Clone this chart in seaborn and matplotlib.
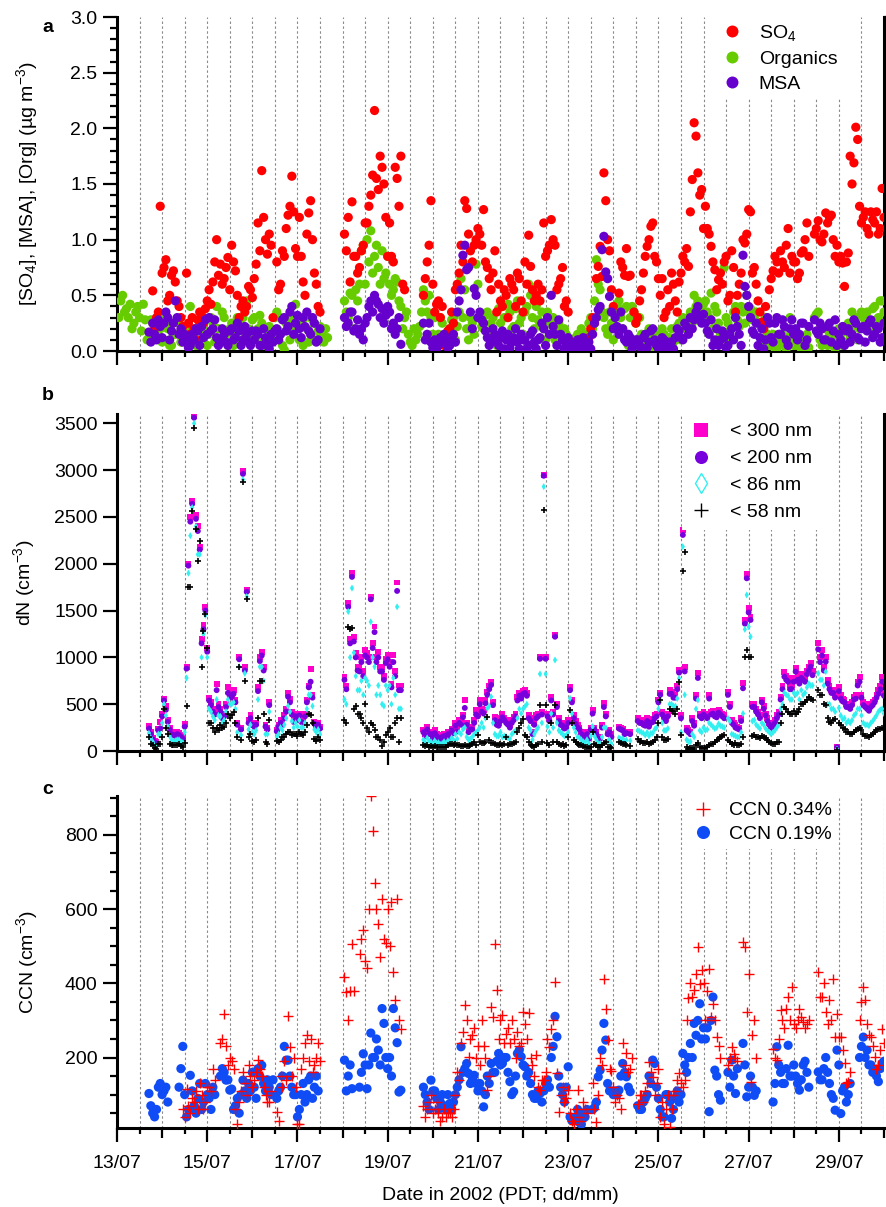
import warnings
warnings.filterwarnings("ignore")
import numpy as np
import matplotlib
matplotlib.use("Agg")
import matplotlib.pyplot as plt
from matplotlib.lines import Line2D
from matplotlib.ticker import (FixedLocator, FixedFormatter, MultipleLocator,
                               NullLocator, FormatStrFormatter)
import seaborn as sns

nan = np.nan

# ---------------- axis data ----------------
DAY_TICKS = [0, 2, 4, 6, 8, 10, 12, 14, 16]
DAY_LABELS = ["13/07", "15/07", "17/07", "19/07", "21/07", "23/07", "25/07", "27/07", "29/07"]
N_DAYS = 17
SLOTS_PER_DAY = 12   # two samples per 2-hour slot: "A" at slot centre, "B" one hour later

# ---------------- panel a (ug m-3) ----------------
SO4_A = [
    nan, nan, nan, nan, nan, nan, nan, nan, nan, 0.54, 0.30, 1.30,
    0.75, 0.45, 0.68, 0.62, 0.40, 0.22, 0.70, 0.15, 0.20, 0.28, 0.32, 0.38,
    0.55, 0.62, 1.00, 0.78, 0.65, 0.84, 0.95, 0.72, 0.30, 0.45, 0.40, 0.55,
    0.65, 1.15, 1.62, 1.00, 1.05, 0.30, 0.80, 0.60, 0.85, 1.22, 1.57, 0.92,
    1.20, 0.62, 1.05, 1.35, 0.70, 0.40, nan, nan, nan, nan, nan, nan,
    1.05, 1.20, 1.34, 0.85, 0.75, 0.95, 1.15, 1.40, 2.16, 1.45, 1.65, 1.20,
    1.15, 0.80, 1.55, 1.75, 0.55, nan, nan, nan, nan, 0.50, 0.80, 1.35,
    0.35, 0.45, 0.40, 0.10, 0.20, 0.25, 0.60, 0.95, 1.35, 1.05, 0.80, 1.00,
    1.05, 1.27, 0.75, 0.55, 0.90, 0.60, 0.40, 0.50, 0.65, 0.55, 0.70, 0.45,
    0.80, 1.04, 0.55, 0.50, 0.45, 1.15, 0.90, 1.18, 0.95, 0.60, 0.75, 0.45,
    0.05, 0.02, 0.08, 0.03, 0.05, 0.12, 0.30, 0.65, 0.94, 1.60, 1.00, 0.55,
    nan, 0.52, 0.75, 0.92, 0.68, 0.35, 0.30, 0.55, 0.85, 1.00, 1.15, 0.80,
    0.50, 0.30, 0.55, 0.70, 0.45, 0.62, 0.85, 0.92, 1.25, 2.05, 1.60, 1.45,
    1.30, 1.05, 0.80, 0.55, 0.70, 0.80, 0.45, 0.90, 0.35, 0.60, 1.00, 1.05,
    1.25, 0.75, 0.45, 0.26, 0.40, 0.55, 0.72, 0.80, 0.90, 0.75, 1.10, 0.85,
    0.80, 0.70, 0.90, 1.15, nan, 1.05, 1.17, 0.98, 1.24, 1.20, 1.00, 0.95,
    0.85, 0.58, 0.88, 1.50, 2.01, 1.30, 1.20, 1.10, 1.25, 1.15, 1.05, 1.46,
]
SO4_B = [
    nan, nan, nan, nan, nan, nan, nan, nan, nan, 0.20, 0.35, 0.70,
    0.82, 0.50, 0.72, 0.45, 0.30, 0.12, 0.25, 0.30, 0.10, 0.35, 0.25, 0.45,
    0.42, 0.80, 0.68, 0.60, 0.75, 0.55, 0.80, 0.50, 0.40, 0.35, 0.58, 0.48,
    0.78, 0.90, 1.20, 0.87, 0.95, nan, 0.55, 0.90, 1.10, 1.30, 1.25, 0.85,
    0.85, 0.50, 1.24, 1.00, 0.60, 0.35, nan, nan, nan, nan, nan, nan,
    0.90, 0.62, 0.85, 0.70, 0.90, 1.15, 1.30, 1.58, 1.55, 1.75, 1.50, 0.85,
    0.85, 1.65, 1.30, 0.60, nan, nan, nan, nan, nan, 0.65, 0.95, 0.60,
    0.42, 0.30, 0.05, 0.18, 0.35, 0.55, 0.70, 0.80, 1.28, 0.90, 0.95, 1.10,
    0.95, 0.80, 0.65, 0.70, 0.35, 0.45, 0.55, 0.30, 0.60, 0.40, 0.65, 0.35,
    0.60, 0.76, 0.45, 0.60, 0.55, 0.85, 0.95, 1.00, 0.55, 0.65, 0.40, 0.35,
    0.08, 0.05, 0.10, 0.00, 0.08, 0.20, 0.25, 0.76, 0.67, 1.35, 0.90, 0.40,
    nan, 0.80, 0.68, 0.67, nan, 0.25, 0.45, 0.70, 0.94, 1.12, 0.85, 0.65,
    0.65, 0.35, 0.40, 0.60, 0.35, 0.70, 0.80, 0.76, 1.54, 1.93, 1.40, 1.10,
    1.10, 0.94, 0.73, 0.64, 0.60, 0.85, 0.50, 0.75, 0.50, 0.70, 0.97, 1.27,
    0.70, 0.60, 0.35, 0.20, nan, 0.65, 0.85, 0.70, 0.80, 0.95, 0.70, 0.80,
    0.65, 0.88, 1.00, 0.85, nan, 1.10, 1.00, 1.05, 1.15, 1.22, 0.85, 0.80,
    0.79, 0.80, 1.75, 1.69, 1.90, 1.15, 1.25, 1.05, 1.18, 1.25, 1.10, 1.20,
]
ORG_A = [
    0.30, 0.50, 0.38, 0.42, 0.25, 0.40, 0.18, 0.28, 0.12, 0.25, 0.15, 0.20,
    0.10, 0.20, 0.05, 0.15, 0.25, 0.12, 0.20, 0.40, 0.15, 0.08, 0.22, 0.18,
    0.15, 0.25, 0.40, 0.10, 0.30, 0.05, 0.25, 0.15, 0.08, 0.30, 0.45, 0.12,
    0.30, 0.20, 0.25, 0.05, 0.22, 0.15, 0.35, 0.30, 0.01, 0.28, 0.18, 0.42,
    0.10, 0.05, 0.20, 0.15, 0.25, 0.18, 0.15, 0.20, nan, nan, nan, nan,
    0.45, 0.30, 0.50, 0.55, 0.60, 0.95, 1.00, 1.08, 0.85, 0.75, 0.90, 0.70,
    0.60, 0.55, 0.62, 0.40, 0.30, 0.15, 0.05, 0.10, 0.22, 0.55, 0.35, 0.30,
    0.30, 0.15, 0.25, 0.05, 0.20, 0.30, 0.22, 0.65, 0.55, 0.10, 0.25, 0.78,
    0.30, 0.20, 0.35, 0.25, 0.10, 0.38, 0.40, 0.30, 0.35, 0.22, 0.45, 0.30,
    0.35, 0.60, 0.30, 0.40, 0.25, 0.20, 0.35, 0.15, 0.10, 0.25, 0.05, 0.15,
    0.10, 0.05, 0.15, 0.20, 0.08, 0.25, 0.20, 0.82, 0.55, 0.30, 0.15, 0.25,
    0.35, 0.45, 0.20, 0.40, 0.30, 0.35, 0.10, 0.15, 0.05, 0.20, 0.10, 0.15,
    0.05, 0.15, 0.02, 0.20, 0.10, 0.25, 0.30, 0.22, 0.35, 0.50, 0.45, 0.38,
    0.45, 0.30, 0.20, 0.35, 0.15, 0.75, 0.25, 0.10, 0.40, 0.22, 0.35, 0.50,
    0.38, 0.30, 0.25, 0.10, 0.30, 0.05, 0.15, 0.02, 0.10, 0.05, 0.12, 0.08,
    0.05, 0.10, 0.02, 0.15, nan, 0.30, 0.35, 0.05, 0.10, 0.15, 0.05, 0.08,
    0.15, 0.08, 0.25, 0.35, 0.30, 0.20, 0.30, 0.35, 0.25, 0.40, 0.30, 0.45,
]
ORG_B = [
    0.45, 0.35, 0.30, 0.20, 0.35, 0.30, 0.42, 0.10, 0.28, 0.18, 0.30, 0.08,
    0.25, 0.05, 0.15, 0.28, 0.08, 0.20, 0.10, 0.18, 0.05, 0.25, 0.12, 0.05,
    0.30, 0.08, 0.20, 0.35, 0.15, 0.20, 0.05, 0.30, 0.22, 0.12, 0.20, 0.28,
    0.12, 0.32, 0.08, 0.20, 0.10, 0.30, 0.18, 0.05, 0.25, 0.10, 0.30, 0.20,
    0.25, 0.30, 0.08, 0.28, 0.10, 0.22, 0.08, 0.12, nan, nan, nan, nan,
    0.35, 0.52, 0.20, 0.45, 0.90, 0.60, 0.80, 0.70, 0.95, 0.60, 0.65, 0.85,
    0.50, 0.65, 0.45, 0.20, 0.35, 0.08, 0.20, 0.15, 0.35, 0.45, 0.50, 0.15,
    0.10, 0.30, 0.08, 0.15, 0.28, 0.10, 0.35, 0.30, 0.20, 0.30, 0.15, 0.60,
    0.22, 0.32, 0.15, 0.30, 0.05, 0.25, 0.30, 0.42, 0.20, 0.38, 0.25, 0.15,
    0.40, 0.50, 0.20, 0.28, 0.35, 0.10, 0.25, 0.30, 0.20, 0.05, 0.20, 0.08,
    0.02, 0.12, 0.05, 0.10, 0.15, 0.30, 0.45, 0.60, 0.35, 0.20, 0.35, 0.10,
    0.42, 0.30, 0.38, 0.05, 0.40, 0.25, 0.30, 0.05, 0.15, 0.02, 0.18, 0.05,
    0.20, 0.05, 0.12, 0.08, 0.22, 0.10, 0.20, 0.30, 0.25, 0.40, 0.30, 0.42,
    0.35, 0.52, 0.40, 0.25, 0.10, 0.30, 0.18, 0.35, 0.28, 0.40, 0.25, 0.35,
    0.28, 0.35, 0.05, 0.20, 0.15, 0.10, 0.02, 0.08, 0.15, 0.02, 0.30, 0.05,
    0.12, 0.02, 0.08, 0.03, nan, 0.33, 0.10, 0.20, 0.05, 0.12, 0.02, 0.20,
    0.05, 0.20, 0.12, 0.22, 0.10, 0.35, 0.25, 0.20, 0.38, 0.28, 0.45, 0.35,
]
MSA_A = [
    nan, nan, nan, nan, nan, nan, nan, nan, 0.17, 0.25, 0.10, 0.22,
    0.25, 0.30, 0.18, 0.45, 0.15, 0.08, 0.12, 0.05, 0.10, 0.18, 0.22, 0.28,
    0.30, 0.20, 0.12, 0.08, 0.15, 0.05, 0.20, 0.12, 0.18, 0.10, 0.15, 0.05,
    0.10, 0.15, 0.05, 0.12, 0.02, 0.08, 0.20, 0.15, 0.30, 0.22, 0.40, 0.25,
    0.20, 0.30, 0.35, 0.15, 0.25, 0.10, nan, nan, nan, nan, nan, nan,
    0.30, 0.25, 0.35, 0.20, 0.15, 0.10, 0.30, 0.45, 0.50, 0.42, 0.38, 0.32,
    0.35, 0.25, 0.20, 0.06, nan, nan, nan, nan, nan, 0.25, 0.15, 0.08,
    0.10, 0.05, 0.08, 0.12, 0.05, 0.15, 0.35, 0.55, 0.95, 0.75, 0.20, 0.50,
    0.35, 0.25, 0.12, 0.08, 0.15, 0.05, 0.18, 0.10, 0.03, 0.12, 0.08, 0.15,
    0.10, 0.05, 0.18, 0.02, 0.12, 0.20, 0.30, 0.50, 0.15, 0.28, 0.10, 0.05,
    0.05, 0.02, 0.10, 0.05, 0.03, 0.08, 0.15, 0.30, 0.40, 1.03, 0.65, 0.35,
    0.30, 0.15, 0.20, 0.08, 0.12, 0.05, 0.10, 0.02, 0.15, 0.08, 0.20, 0.05,
    0.05, 0.10, 0.02, 0.08, 0.12, 0.18, 0.10, 0.22, 0.30, 0.28, 0.40, 0.25,
    0.25, 0.15, 0.05, 0.20, 0.10, 0.12, 0.05, 0.20, 0.30, 0.15, 0.86, 0.50,
    0.30, 0.15, 0.05, 0.20, 0.10, 0.25, 0.08, 0.30, 0.15, 0.22, 0.05, 0.28,
    0.20, 0.15, 0.25, 0.10, nan, 0.28, 0.15, 0.20, 0.10, 0.25, 0.18, 0.05,
    0.10, 0.05, 0.20, 0.15, 0.25, 0.10, 0.22, 0.18, 0.28, 0.15, 0.20, 0.12,
]
MSA_B = [
    nan, nan, nan, nan, nan, nan, nan, nan, 0.08, 0.15, 0.28, 0.12,
    0.35, 0.10, 0.25, 0.30, 0.20, 0.15, 0.03, 0.15, 0.20, 0.05, 0.12, 0.15,
    0.18, 0.28, 0.05, 0.20, 0.08, 0.18, 0.10, 0.25, 0.05, 0.22, 0.08, 0.18,
    0.18, 0.05, 0.20, 0.05, 0.15, 0.18, 0.10, 0.28, 0.18, 0.35, 0.15, 0.32,
    0.12, 0.22, 0.18, 0.30, 0.08, 0.20, nan, nan, nan, nan, nan, nan,
    0.22, 0.35, 0.18, 0.28, 0.20, 0.25, 0.40, 0.35, 0.45, 0.30, 0.25, 0.40,
    0.20, 0.15, 0.30, nan, nan, nan, nan, nan, nan, 0.10, 0.25, 0.03,
    0.02, 0.12, 0.15, 0.03, 0.10, 0.08, 0.45, 0.86, 0.73, 0.35, 0.56, 0.30,
    0.28, 0.18, 0.05, 0.20, 0.10, 0.12, 0.02, 0.15, 0.08, 0.20, 0.02, 0.10,
    0.02, 0.15, 0.08, 0.10, 0.25, 0.05, 0.15, 0.22, 0.05, 0.15, 0.02, 0.12,
    0.00, 0.08, 0.03, 0.12, 0.05, 0.02, 0.25, 0.37, 0.91, 0.71, 0.49, 0.20,
    0.22, 0.35, 0.10, 0.15, 0.02, 0.10, 0.05, 0.12, 0.03, 0.18, 0.10, 0.02,
    0.12, 0.03, 0.08, 0.02, 0.20, 0.12, 0.25, 0.15, 0.20, 0.35, 0.30, 0.33,
    0.18, 0.28, 0.10, 0.05, 0.18, 0.03, 0.15, 0.10, 0.22, 0.05, 0.58, 0.40,
    0.18, 0.25, 0.12, 0.02, 0.30, 0.12, 0.25, 0.15, 0.28, 0.10, 0.20, 0.15,
    0.10, 0.25, 0.05, 0.22, nan, 0.18, 0.25, 0.10, 0.22, 0.08, 0.28, 0.15,
    0.22, 0.18, 0.08, 0.28, 0.12, 0.20, 0.08, 0.25, 0.12, 0.22, 0.08, 0.25,
]

# ---------------- panel b (cm-3) ----------------
N300_A = [
    nan, nan, nan, nan, nan, nan, nan, nan, 265, 140, 100, 313,
    560, 330, 200, 180, 190, 150, 900, 2500, 3580, 2400, 1200, 1540,
    570, 450, 720, 450, 400, 680, 600, 550, 1000, 2990, 1720, 380,
    280, 680, 1060, 280, 520, nan, 230, 330, 380, 620, 420, 400,
    400, 320, 550, 880, 310, 300, nan, nan, nan, nan, nan, nan,
    790, 1580, 1905, 1050, 900, 850, 1050, 1650, 1330, 1060, 900, 980,
    950, 1030, 1800, 700, nan, nan, nan, nan, nan, 230, 260, 200,
    220, 160, 170, 150, 175, 220, 240, 310, 545, 220, 260, 440,
    545, 440, 634, 740, 360, 300, 400, 330, 280, 360, 580, 600,
    652, 380, 200, 380, 1008, 2949, 400, 580, 1240, 350, 300, 280,
    687, 380, 280, 200, 160, 150, 438, 200, 150, 509, 206, 180,
    nan, 260, 240, 206, 200, nan, 350, 330, 300, 290, 340, 400,
    616, 380, 400, 634, 598, 865, 2361, 250, 200, 300, 830, 380,
    400, 598, 430, 390, 420, 380, 634, 330, 280, 250, 723, 1887,
    1435, 500, 420, 545, 400, 300, 278, 380, 580, 848, 780, 700,
    883, 750, 800, 850, 937, nan, 1150, 1080, 1008, 700, 650, 46,
    600, 550, 500, 520, 600, 794, 520, 480, 500, 550, 650, 794,
]
N300_B = [
    nan, nan, nan, nan, nan, nan, nan, nan, 200, 110, 240, 400,
    480, 250, 190, 200, 170, 290, 2000, 2670, 2520, 2180, 1350, 1100,
    520, 420, 500, 380, 500, 620, 650, 300, 250, 900, 330, 300,
    300, 1000, 900, 250, nan, nan, 280, 300, 450, 560, 330, 350,
    330, 400, 700, 600, 280, 260, nan, nan, nan, nan, nan, nan,
    700, 1200, 1220, 900, 1000, 1080, 1000, 1150, 1000, 900, 800, 1030,
    720, 850, 700, nan, nan, nan, nan, nan, nan, 180, 200, 150,
    180, 140, 180, 200, 240, 300, 330, 390, 300, 250, 330, 400,
    450, 550, 700, 520, 300, 350, 350, 300, 330, 400, 620, 640,
    620, 350, 300, 400, 420, 1000, 350, 420, 500, 300, 260, 330,
    550, 320, 250, 180, 200, 250, 250, 150, 280, 400, 220, nan,
    nan, 250, 200, nan, nan, nan, 320, 300, 350, 320, 380, 550,
    420, 350, 650, 600, 700, 380, 900, 220, 350, 600, 400, 420,
    380, 420, 400, 440, 400, nan, 500, 300, 260, 350, 1400, 1524,
    500, 450, 380, 480, 350, 270, 330, 420, 700, 800, 700, 780,
    800, 820, 780, 900, 850, nan, 1000, 900, 760, 650, 600, 680,
    560, 500, 480, 580, 740, 600, 500, 460, 520, 600, 700, 620,
]
N200_A = [
    nan, nan, nan, nan, nan, nan, nan, nan, 240, 125, 80, 242,
    540, 310, 180, 160, 170, 130, 880, 2450, 3560, 2350, 1150, 1500,
    540, 420, 650, 420, 370, 620, 570, 520, 980, 2960, 1700, 350,
    260, 640, 1020, 260, 490, nan, 210, 300, 350, 580, 390, 370,
    380, 300, 520, 740, 290, 280, nan, nan, nan, nan, nan, nan,
    760, 1540, 1860, 1000, 850, 800, 1000, 1620, 1270, 1000, 850, 940,
    900, 950, 1710, 650, nan, nan, nan, nan, nan, 200, 230, 180,
    190, 140, 150, 130, 150, 190, 210, 280, 460, 200, 230, 390,
    500, 400, 600, 705, 330, 270, 360, 300, 250, 330, 540, 560,
    620, 350, 180, 350, 985, 2940, 370, 540, 1221, 320, 270, 250,
    650, 350, 250, 180, 140, 130, 400, 180, 130, 470, 180, 150,
    nan, 240, 220, 190, 180, nan, 320, 300, 270, 260, 310, 370,
    600, 350, 370, 610, 570, 837, 2308, 220, 180, 270, 780, 350,
    370, 560, 400, 360, 390, 350, 600, 300, 250, 230, 670, 1845,
    1400, 470, 390, 520, 380, 280, 260, 350, 550, 794, 740, 660,
    848, 720, 760, 820, 901, nan, 1086, 1020, 954, 660, 620, 40,
    560, 520, 470, 490, 560, 740, 490, 450, 470, 520, 610, 740,
]
N200_B = [
    nan, nan, nan, nan, nan, nan, nan, nan, 180, 95, 220, 370,
    440, 230, 170, 180, 150, 260, 1980, 2640, 2480, 2150, 1300, 1060,
    490, 390, 470, 350, 470, 580, 610, 280, 230, 860, 300, 280,
    280, 960, 860, 230, nan, nan, 260, 280, 420, 520, 310, 330,
    310, 370, 680, 570, 260, 240, nan, nan, nan, nan, nan, nan,
    660, 1150, 1170, 860, 950, 1020, 950, 1100, 950, 850, 760, 980,
    680, 800, 650, nan, nan, nan, nan, nan, nan, 160, 180, 130,
    160, 120, 160, 180, 220, 270, 300, 360, 280, 230, 300, 370,
    420, 510, 660, 490, 280, 320, 330, 280, 300, 370, 590, 610,
    590, 320, 280, 370, 390, 985, 320, 390, 470, 280, 240, 300,
    520, 290, 230, 160, 180, 230, 230, 130, 250, 370, 200, nan,
    nan, 230, 180, nan, nan, nan, 300, 280, 320, 300, 350, 520,
    390, 320, 610, 570, 660, 350, 850, 200, 320, 560, 370, 390,
    350, 390, 370, 410, 370, nan, 470, 280, 240, 320, 1360, 1480,
    470, 420, 350, 450, 320, 250, 300, 390, 660, 760, 660, 740,
    760, 780, 740, 860, 810, nan, 950, 860, 720, 620, 570, 640,
    530, 470, 450, 550, 700, 570, 470, 430, 490, 570, 660, 590,
]
N86_A = [
    nan, nan, nan, nan, nan, nan, nan, nan, 190, 100, 46, 180,
    500, 260, 120, 110, 120, 90, 780, 2300, 3500, 2100, 1000, 1450,
    450, 370, 550, 370, 330, 550, 500, 450, 900, 2900, 1650, 280,
    180, 550, 900, 180, 420, nan, 150, 250, 280, 480, 320, 300,
    330, 250, 450, 600, 230, 230, nan, nan, nan, nan, nan, nan,
    550, 1490, 1740, 800, 650, 600, 750, 1380, 900, 700, 500, 700,
    700, 780, 1540, 450, nan, nan, nan, nan, nan, 120, 140, 100,
    110, 90, 80, 80, 100, 120, 130, 180, 250, 120, 150, 200,
    250, 250, 455, 580, 180, 160, 150, 150, 130, 200, 350, 400,
    474, 250, 120, 220, 823, 2824, 260, 400, 972, 220, 180, 170,
    563, 250, 150, 120, 90, 80, 260, 120, 80, 250, 100, 80,
    nan, 140, 130, 117, 110, nan, 220, 200, 170, 160, 190, 250,
    545, 220, 240, 500, 480, 776, 2183, 120, 100, 150, 545, 200,
    220, 300, 260, 250, 270, 250, 350, 180, 160, 150, 400, 1667,
    1221, 330, 260, 300, 240, 200, 200, 250, 450, 620, 590, 550,
    600, 550, 600, 680, 700, nan, 830, 760, 848, 500, 450, 20,
    380, 350, 320, 330, 400, 450, 300, 280, 300, 350, 420, 450,
]
N86_B = [
    nan, nan, nan, nan, nan, nan, nan, nan, 140, 60, 180, 300,
    380, 160, 100, 120, 100, 200, 1900, 2600, 2400, 2100, 1250, 1000,
    420, 330, 380, 300, 420, 500, 520, 200, 170, 830, 230, 200,
    220, 900, 750, 180, nan, nan, 180, 220, 350, 420, 250, 260,
    250, 300, 600, 480, 200, 180, nan, nan, nan, nan, nan, nan,
    500, 1000, 1050, 650, 750, 780, 700, 1000, 600, 600, 480, 650,
    500, 600, 450, nan, nan, nan, nan, nan, nan, 90, 110, 70,
    80, 70, 100, 110, 140, 180, 200, 230, 150, 130, 180, 220,
    300, 350, 480, 300, 160, 200, 160, 140, 180, 220, 450, 450,
    500, 220, 180, 250, 300, 823, 200, 250, 300, 200, 160, 200,
    400, 200, 140, 100, 120, 160, 160, 80, 150, 250, 120, nan,
    nan, 130, 110, nan, nan, nan, 210, 190, 200, 190, 230, 450,
    300, 220, 500, 480, 560, 200, 600, 100, 180, 450, 220, 250,
    230, 280, 240, 290, 260, nan, 320, 170, 150, 200, 1300, 1328,
    320, 280, 240, 280, 220, 180, 220, 280, 500, 600, 550, 620,
    620, 650, 620, 720, 700, nan, 760, 700, 500, 450, 420, 460,
    340, 300, 300, 380, 450, 380, 280, 270, 320, 380, 440, 400,
]
N58_A = [
    nan, nan, nan, nan, nan, nan, nan, nan, 145, 60, 20, 80,
    450, 180, 60, 60, 70, 40, 480, 1750, 3450, 2030, 900, 1460,
    300, 250, 250, 280, 260, 400, 380, 300, 900, 2870, 1620, 180,
    100, 350, 750, 100, 330, nan, 110, 120, 150, 200, 170, 180,
    200, 170, 280, 380, 130, 150, nan, nan, nan, nan, nan, nan,
    330, 1320, 1310, 480, 400, 300, 250, 300, 220, 150, 50, 170,
    250, 150, 350, 350, nan, nan, nan, nan, nan, 60, 60, 50,
    50, 45, 45, 40, 80, 60, 60, 50, 60, 57, 70, 64,
    100, 82, 367, 82, 70, 60, 64, 153, 80, 82, 200, 300,
    171, 100, 50, 60, 491, 2575, 82, 300, 491, 80, 70, 60,
    438, 120, 80, 60, 40, 30, 206, 60, 40, 82, 40, 30,
    nan, 100, 80, 60, 50, nan, 130, 110, 90, 80, 100, 150,
    545, 120, 130, 430, 400, 740, 1927, 40, 30, 20, 82, 30,
    30, 60, 80, 120, 150, 170, 117, 70, 82, 60, 150, 1079,
    1008, 170, 150, 160, 140, 100, 80, 100, 300, 474, 420, 400,
    400, 450, 500, 550, 560, nan, 652, 598, 491, 313, 330, 10,
    280, 230, 200, 180, 220, 250, 180, 160, 170, 200, 230, 250,
]
N58_B = [
    nan, nan, nan, nan, nan, nan, nan, nan, 80, 30, 80, 150,
    250, 70, 60, 60, 50, 90, 1750, 2560, 2370, 2240, 1280, 1100,
    300, 200, 220, 250, 300, 350, 420, 150, 120, 750, 150, 110,
    120, 750, 400, 80, nan, nan, 100, 150, 180, 200, 180, 160,
    180, 200, 400, 300, 110, 120, nan, nan, nan, nan, nan, nan,
    300, 1300, 450, 400, 350, 500, 200, 280, 150, 120, 100, 200,
    150, 300, 100, nan, nan, nan, nan, nan, nan, 50, 45, 40,
    40, 40, 45, 60, 70, 80, 60, 50, 55, 60, 100, 170,
    90, 100, 120, 90, 60, 70, 80, 60, 80, 100, 250, 340,
    150, 60, 40, 70, 100, 491, 60, 100, 100, 60, 50, 150,
    300, 100, 60, 50, 40, 40, 80, 40, 60, 100, 40, nan,
    nan, 90, 70, nan, nan, nan, 100, 90, 100, 90, 120, 300,
    150, 120, 450, 430, 450, 171, 2130, 20, 30, 60, 40, 30,
    40, 70, 100, 130, 160, nan, 100, 60, 60, 80, 1000, 1008,
    160, 150, 140, 150, 120, 90, 70, 100, 400, 450, 400, 430,
    420, 500, 520, 580, 540, nan, 600, 500, 350, 300, 340, 300,
    250, 200, 180, 200, 230, 220, 160, 150, 180, 220, 240, 230,
]

# ---------------- panel c (cm-3) ----------------
CCN034_A = [
    nan, nan, nan, nan, nan, nan, nan, nan, nan, nan, nan, nan,
    nan, nan, nan, nan, nan, 60, 116, 50, 80, 60, 100, 80,
    120, 170, nan, 240, 318, 180, 190, 60, 80, 161, 100, 150,
    140, 193, 150, 100, 80, nan, 52, 150, 190, 312, 150, 120,
    20, 200, 260, 250, 180, 238, nan, nan, nan, nan, nan, nan,
    417, 300, 507, nan, 480, 543, 440, 906, 670, 560, 628, 510,
    500, 430, 628, 278, nan, nan, nan, nan, nan, 70, 60, 100,
    60, 50, 40, 40, 50, 60, 161, 238, 341, 202, 260, 200,
    180, 230, 112, 336, 507, 250, 314, 264, 238, 250, 270, 238,
    290, 320, 180, 206, 112, 139, 250, 278, 404, 54, 121, 90,
    50, 22, 112, 30, 60, nan, 130, 27, 200, 412, 247, 165,
    80, 90, 238, 211, 170, nan, 76, 100, 110, 188, 148, 130,
    40, 20, 100, 60, 110, 157, 120, 300, 400, 381, 498, 435,
    300, 439, 345, 255, 200, nan, 180, 229, 200, nan, 511, 323,
    134, 300, nan, nan, nan, nan, 224, 193, 327, 280, 363, 390,
    280, 332, 296, 290, nan, nan, 430, 363, 323, 354, 412, 318,
    255, 184, 134, nan, nan, 300, 390, 291, 255, 202, 180, 278,
]
CCN034_B = [
    nan, nan, nan, nan, nan, nan, nan, nan, nan, nan, nan, nan,
    nan, nan, nan, nan, nan, 40, 70, 90, 110, 130, 60, 120,
    110, 140, nan, 250, 230, 200, 170, 22, 110, 130, 180, 120,
    160, 170, 120, 80, 110, nan, 30, 120, 140, 228, 200, 22,
    170, 240, 190, 160, 200, 190, nan, nan, nan, nan, nan, nan,
    377, 379, 380, nan, 520, 460, 600, 811, 600, 470, 520, 600,
    620, 355, 300, nan, nan, nan, nan, nan, nan, 40, 80, 50,
    80, 30, 60, 50, 40, 100, 140, 269, 300, 250, 280, 230,
    300, 200, 150, 309, 383, 300, 238, 280, 300, 200, 230, 323,
    250, 200, 150, 120, 140, 160, 229, 300, 157, 100, 80, 112,
    30, 60, 40, 80, 50, nan, 60, 100, 180, 332, 170, 120,
    100, 60, 179, 161, 200, nan, 100, 80, 130, 160, 100, 170,
    80, 60, 13, 100, 140, 130, 140, 360, 363, 426, 399, 400,
    380, 309, 300, 230, nan, nan, 200, 210, 190, nan, 498, 426,
    260, 200, nan, nan, nan, nan, 200, 250, 300, 330, 300, 290,
    300, 310, 280, 300, nan, nan, 363, 400, 290, 300, 255, 255,
    220, 130, 160, nan, nan, 350, 354, 260, 230, 170, 220, 240,
]
CCN019_A = [
    nan, nan, nan, nan, nan, nan, nan, nan, 103, 50, 60, 130,
    110, 80, nan, nan, 120, 230, 40, 152, 70, 90, 60, 130,
    90, 120, nan, 150, 160, 140, 115, 70, 50, 139, 90, 110,
    120, 170, 179, 110, 120, 140, 90, 120, 230, 193, 120, 100,
    60, 130, 100, 150, 120, 110, nan, nan, nan, nan, nan, nan,
    193, 150, 116, nan, 120, 210, 116, 266, 200, 220, 332, 200,
    200, 332, 240, 112, nan, nan, nan, nan, nan, 120, 80, 139,
    110, 60, 100, 60, 76, 80, 120, 229, 170, 157, 140, 130,
    130, 67, 150, 184, 160, 211, 184, 200, 135, 108, 211, 202,
    175, 160, 100, 90, 103, 110, 140, 200, 311, 150, 100, 120,
    40, 30, 60, 20, 40, nan, 60, 80, 166, 292, 130, 110,
    110, 112, 184, 148, 108, nan, 70, 60, 90, 150, 193, 120,
    60, 40, 100, 36, 90, 80, 211, 160, 238, 292, 300, 250,
    250, 54, 363, 150, 85, nan, 160, 193, 103, nan, 238, 94,
    150, 98, nan, nan, nan, nan, 80, 229, 160, 130, 233, 150,
    150, 112, 180, 160, nan, nan, 161, 140, 200, 130, 90, 220,
    49, 121, 100, nan, nan, 200, 255, 220, 180, 166, 135, 184,
]
CCN019_B = [
    nan, nan, nan, nan, nan, nan, nan, nan, 70, 40, 120, 100,
    120, nan, nan, nan, 170, 100, 60, 110, 50, 130, 80, 100,
    60, 100, nan, 170, 139, 112, 60, 90, 100, 110, 130, 160,
    90, 150, 130, 140, 100, nan, 110, 150, 193, 150, 100, 40,
    100, 80, 140, 90, 150, nan, nan, nan, nan, nan, nan, nan,
    110, 180, nan, nan, 160, 180, 180, 200, 250, 180, 292, 170,
    150, 280, 107, nan, nan, nan, nan, nan, nan, 100, 60, 110,
    90, 80, 70, 100, 60, 100, 140, 160, 184, 130, 152, 110,
    110, 100, 130, 160, 190, 180, 200, 160, 100, 150, 220, 180,
    150, 130, 90, 110, 80, 130, 120, 230, 256, 120, 80, 175,
    30, 40, 25, 50, 60, nan, 65, 148, 220, 247, 110, 100,
    100, 150, 160, 120, nan, nan, 60, 80, 100, 130, 184, 90,
    40, 100, 80, 60, 110, 100, 180, 200, 200, 260, 345, 280,
    280, 300, 166, 100, nan, nan, 120, 150, 170, nan, 180, 120,
    120, 110, nan, nan, nan, nan, 130, 180, 130, 170, 150, 180,
    130, 140, 190, 120, nan, nan, 140, 170, 160, 100, 58, 180,
    110, 80, 130, nan, nan, 230, 200, 180, 160, 150, 170, 190,
]

# ---------------- colours ----------------
RED = "#ff0000"
GREEN = "#66cc00"
PURPLE = "#6600cc"
MAGENTA = "#ff00cc"
VIOLET = "#7700dd"
CYAN = "#33f0f0"
BLUE = "#0f4cf5"

t_a = (np.arange(N_DAYS * SLOTS_PER_DAY) + 0.5) / SLOTS_PER_DAY
t_b = t_a + 0.5 / SLOTS_PER_DAY
t_all = np.concatenate([t_a, t_b])

sns.set_theme(style="ticks")
plt.rcParams.update({
    "font.family": ["Liberation Sans", "DejaVu Sans"],
    "mathtext.fontset": "custom",
    "mathtext.rm": "Liberation Sans",
    "mathtext.it": "Liberation Sans:italic",
    "mathtext.bf": "Liberation Sans:bold",
    "font.size": 14,
    "text.color": "black",
    "axes.labelcolor": "black",
    "axes.edgecolor": "black",
    "xtick.color": "black",
    "ytick.color": "black",
})

W, H = 887, 1207
fig = plt.figure(figsize=(W / 100, H / 100), dpi=100)


def add_ax(top_px, bottom_px, left_px=117, right_px=884):
    return fig.add_axes([left_px / W, 1 - bottom_px / H,
                         (right_px - left_px) / W, (bottom_px - top_px) / H])


ax_a = add_ax(17, 351)
ax_b = add_ax(414, 751)
ax_c = add_ax(796, 1128)

tick_lab = dict(zip(DAY_TICKS, DAY_LABELS))


def style_axes(ax, right_spine, show_labels):
    ax.set_xlim(0, N_DAYS)
    ax.spines["top"].set_visible(False)
    ax.spines["right"].set_visible(right_spine)
    for s in ("left", "bottom", "right"):
        ax.spines[s].set_linewidth(2.2)
    days = list(range(0, N_DAYS + 1))
    ax.xaxis.set_major_locator(FixedLocator(days))
    ax.xaxis.set_minor_locator(FixedLocator(list(np.arange(0.5, N_DAYS, 1.0))))
    ax.xaxis.set_major_formatter(FixedFormatter([tick_lab.get(d, "") for d in days]))
    ax.tick_params(axis="x", which="major", direction="out", length=7.2, width=1.6,
                   pad=12, labelsize=14, labelbottom=show_labels)
    ax.tick_params(axis="x", which="minor", direction="out", length=4.3, width=1.6)
    ax.tick_params(axis="y", which="major", direction="out", length=10, width=1.6,
                   pad=4, labelsize=14)
    ax.tick_params(axis="y", which="minor", direction="out", length=5, width=1.6)
    ax.tick_params(axis="y", which="both", left=True, right=right_spine, labelright=False)
    ax.grid(True, axis="x", which="both", color="#8a8a8a",
            linestyle=(0, (2.2, 2.2)), linewidth=0.8)
    ax.grid(False, axis="y")
    ax.set_axisbelow(True)
    ticks = ax.xaxis.get_major_ticks(len(days))
    for d, tk in zip(days, ticks):
        if d in tick_lab:
            tk.tick1line.set_markersize(10)


def scat(ax, ya, yb, **kw):
    y = np.concatenate([np.asarray(ya, dtype=float), np.asarray(yb, dtype=float)])
    sns.scatterplot(x=t_all, y=y, ax=ax, legend=False, **kw)


leg_kw = dict(loc="upper left", frameon=True, fancybox=False, facecolor="white",
              edgecolor="none", framealpha=1, fontsize=14, handlelength=1.0,
              borderaxespad=0)

# ---- panel a ----
scat(ax_a, ORG_A, ORG_B, color=GREEN, s=44, edgecolor="none", zorder=3)
scat(ax_a, SO4_A, SO4_B, color=RED, s=44, edgecolor="none", zorder=3)
scat(ax_a, MSA_A, MSA_B, color=PURPLE, s=44, edgecolor="none", zorder=3)
ax_a.set_ylim(0, 3.0)
ax_a.yaxis.set_major_locator(MultipleLocator(0.5))
ax_a.yaxis.set_minor_locator(MultipleLocator(0.1))
ax_a.yaxis.set_major_formatter(FormatStrFormatter("%.1f"))
style_axes(ax_a, True, False)
ax_a.set_ylabel("[SO$_4$], [MSA], [Org] (µg m$^{-3}$)", fontsize=14)
ax_a.yaxis.set_label_coords(-0.100, 0.5)
h_a = [Line2D([], [], ls="none", marker="o", color=c, markersize=8.6, markeredgewidth=0)
       for c in (RED, GREEN, PURPLE)]
ax_a.legend(h_a, ["SO$_4$", "Organics", "MSA"], bbox_to_anchor=(0.781, 1.0),
            handletextpad=0.9, labelspacing=0.38, borderpad=0.3, **leg_kw)

# ---- panel b ----
scat(ax_b, N300_A, N300_B, color=MAGENTA, marker="s", s=18, edgecolor="none", zorder=3)
scat(ax_b, N200_A, N200_B, color=VIOLET, marker="o", s=18, edgecolor="none", zorder=3)
scat(ax_b, N86_A, N86_B, color=CYAN, marker="d", s=13, edgecolor="none", zorder=3)
scat(ax_b, N58_A, N58_B, color="black", marker="+", s=22, linewidth=1.2,
     edgecolor=None, zorder=3)
ax_b.set_ylim(0, 3600)
ax_b.yaxis.set_major_locator(MultipleLocator(500))
ax_b.yaxis.set_minor_locator(NullLocator())
style_axes(ax_b, True, False)
ax_b.set_ylabel("dN (cm$^{-3}$)", fontsize=14)
ax_b.yaxis.set_label_coords(-0.104, 0.5)
h_b = [Line2D([], [], ls="none", marker="s", color=MAGENTA, markersize=9.4, markeredgewidth=0),
       Line2D([], [], ls="none", marker="o", color=VIOLET, markersize=9.4, markeredgewidth=0),
       Line2D([], [], ls="none", marker="d", markerfacecolor="none", markeredgecolor=CYAN,
              markersize=10, markeredgewidth=1.0),
       Line2D([], [], ls="none", marker="+", color="black", markersize=10, markeredgewidth=1.0)]
ax_b.legend(h_b, ["< 300 nm", "< 200 nm", "< 86 nm", "< 58 nm"], bbox_to_anchor=(0.737, 1.0),
            handletextpad=1.0, labelspacing=0.48, borderpad=0.45, **leg_kw)

# ---- panel c ----
scat(ax_c, CCN019_A, CCN019_B, color=BLUE, marker="o", s=44, edgecolor="none", zorder=3)
scat(ax_c, CCN034_A, CCN034_B, color=RED, marker="+", s=44, linewidth=1.0,
     edgecolor=None, zorder=4)
ax_c.set_ylim(10, 905)
ax_c.yaxis.set_major_locator(MultipleLocator(200))
ax_c.yaxis.set_minor_locator(MultipleLocator(50))
style_axes(ax_c, False, True)
ax_c.set_ylabel("CCN (cm$^{-3}$)", fontsize=14)
ax_c.yaxis.set_label_coords(-0.100, 0.5)
ax_c.set_xlabel("Date in 2002 (PDT; dd/mm)", fontsize=14, labelpad=11)
h_c = [Line2D([], [], ls="none", marker="+", color=RED, markersize=10, markeredgewidth=1.0),
       Line2D([], [], ls="none", marker="o", color=BLUE, markersize=9.4, markeredgewidth=0)]
ax_c.legend(h_c, ["CCN 0.34%", "CCN 0.19%"], bbox_to_anchor=(0.744, 1.0),
            handletextpad=0.85, labelspacing=0.3, borderpad=0.3, **leg_kw)

for lbl, ytop in (("a", 27), ("b", 395), ("c", 790)):
    fig.text(48 / W, 1 - ytop / H, lbl, fontsize=14, fontweight="bold",
             ha="center", va="center")

fig.savefig("out.png", dpi=100)
